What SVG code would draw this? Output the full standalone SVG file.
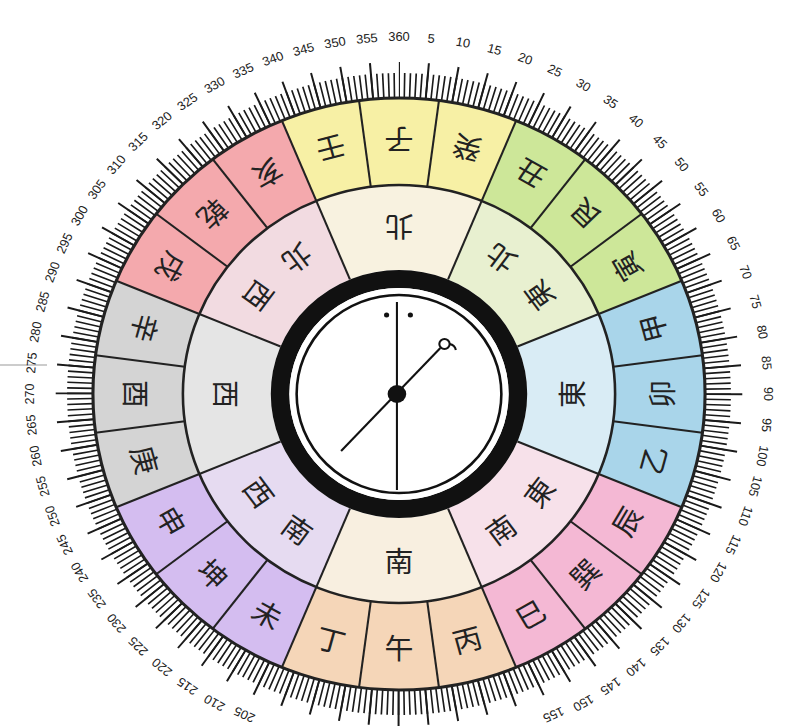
<svg xmlns="http://www.w3.org/2000/svg" xmlns:xlink="http://www.w3.org/1999/xlink" width="795" height="728" viewBox="0 0 795 728">
<style>
.m{font-family:"Noto Sans CJK TC","Noto Sans CJK SC",sans-serif;font-size:28px;fill:#222;text-anchor:middle;dominant-baseline:central}
.n{font-family:"Liberation Sans",Arial,sans-serif;font-size:12.5px;fill:#222;text-anchor:middle;dominant-baseline:central}
.dv{stroke:#222;stroke-width:2}
.r24{fill:none;stroke-width:87;stroke-dasharray:199 1387.5}
.r8{fill:none;stroke-width:85;stroke-dasharray:131.3 914.9}
</style>
<defs>
<line id="d24" class="dv" x1="0" y1="-209" x2="0" y2="-296"/>
<line id="d8" class="dv" x1="0" y1="-124" x2="0" y2="-209"/>
</defs>
<rect width="795" height="728" fill="#fff"/>
<line x1="0" y1="365" x2="47" y2="365" stroke="#999" stroke-width="1"/>
<g transform="translate(399,394) scale(1.034,1)">
<g id="ring24">
<circle class="r24" r="252.5" stroke="#f7f0a5" transform="rotate(247.5)"/>
<circle class="r24" r="252.5" stroke="#cde799" transform="rotate(-67.5)"/>
<circle class="r24" r="252.5" stroke="#a9d5ea" transform="rotate(-22.5)"/>
<circle class="r24" r="252.5" stroke="#f4b8d4" transform="rotate(22.5)"/>
<circle class="r24" r="252.5" stroke="#f5d6b8" transform="rotate(67.5)"/>
<circle class="r24" r="252.5" stroke="#d4bdf0" transform="rotate(112.5)"/>
<circle class="r24" r="252.5" stroke="#d4d4d4" transform="rotate(157.5)"/>
<circle class="r24" r="252.5" stroke="#f4a9ad" transform="rotate(202.5)"/>
</g>
<g id="ring8">
<circle class="r8" r="166.5" stroke="#f8f2e0" transform="rotate(247.5)"/>
<circle class="r8" r="166.5" stroke="#e8f0d0" transform="rotate(-67.5)"/>
<circle class="r8" r="166.5" stroke="#d9ecf5" transform="rotate(-22.5)"/>
<circle class="r8" r="166.5" stroke="#f7e1ea" transform="rotate(22.5)"/>
<circle class="r8" r="166.5" stroke="#f8efe0" transform="rotate(67.5)"/>
<circle class="r8" r="166.5" stroke="#e6dbf1" transform="rotate(112.5)"/>
<circle class="r8" r="166.5" stroke="#e5e5e5" transform="rotate(157.5)"/>
<circle class="r8" r="166.5" stroke="#f2dbe1" transform="rotate(202.5)"/>
</g>
<g id="ticks" transform="rotate(-90)">
<circle r="308.5" fill="none" stroke="#1a1a1a" stroke-width="25" stroke-dasharray="1.6 3.78434" stroke-dashoffset="0.8"/>
<circle r="314" fill="none" stroke="#1a1a1a" stroke-width="36" stroke-dasharray="1.9 25.5017" stroke-dashoffset="0.95"/>
</g>
<g id="connectors">
<circle r="296" fill="none" stroke="#222" stroke-width="3"/>
<circle r="209" fill="none" stroke="#222" stroke-width="2.5"/>
<use xlink:href="#d24" transform="rotate(7.5)"/><use xlink:href="#d24" transform="rotate(22.5)"/><use xlink:href="#d24" transform="rotate(37.5)"/><use xlink:href="#d24" transform="rotate(52.5)"/>
<use xlink:href="#d24" transform="rotate(67.5)"/><use xlink:href="#d24" transform="rotate(82.5)"/><use xlink:href="#d24" transform="rotate(97.5)"/><use xlink:href="#d24" transform="rotate(112.5)"/>
<use xlink:href="#d24" transform="rotate(127.5)"/><use xlink:href="#d24" transform="rotate(142.5)"/><use xlink:href="#d24" transform="rotate(157.5)"/><use xlink:href="#d24" transform="rotate(172.5)"/>
<use xlink:href="#d24" transform="rotate(187.5)"/><use xlink:href="#d24" transform="rotate(202.5)"/><use xlink:href="#d24" transform="rotate(217.5)"/><use xlink:href="#d24" transform="rotate(232.5)"/>
<use xlink:href="#d24" transform="rotate(247.5)"/><use xlink:href="#d24" transform="rotate(262.5)"/><use xlink:href="#d24" transform="rotate(277.5)"/><use xlink:href="#d24" transform="rotate(292.5)"/>
<use xlink:href="#d24" transform="rotate(307.5)"/><use xlink:href="#d24" transform="rotate(322.5)"/><use xlink:href="#d24" transform="rotate(337.5)"/><use xlink:href="#d24" transform="rotate(352.5)"/>
<use xlink:href="#d8" transform="rotate(22.5)"/><use xlink:href="#d8" transform="rotate(67.5)"/><use xlink:href="#d8" transform="rotate(112.5)"/><use xlink:href="#d8" transform="rotate(157.5)"/>
<use xlink:href="#d8" transform="rotate(202.5)"/><use xlink:href="#d8" transform="rotate(247.5)"/><use xlink:href="#d8" transform="rotate(292.5)"/><use xlink:href="#d8" transform="rotate(337.5)"/>
</g>
<g id="mountains">
<text class="m" transform="rotate(0) translate(0,-253) rotate(180)">子</text>
<text class="m" transform="rotate(15) translate(0,-253) rotate(180)">癸</text>
<text class="m" transform="rotate(30) translate(0,-253) rotate(180)">丑</text>
<text class="m" transform="rotate(45) translate(0,-253) rotate(180)">艮</text>
<text class="m" transform="rotate(60) translate(0,-253) rotate(180)">寅</text>
<text class="m" transform="rotate(75) translate(0,-253) rotate(180)">甲</text>
<text class="m" transform="rotate(90) translate(0,-253) rotate(180)">卯</text>
<text class="m" transform="rotate(105) translate(0,-253) rotate(180)">乙</text>
<text class="m" transform="rotate(120) translate(0,-253) rotate(180)">辰</text>
<text class="m" transform="rotate(135) translate(0,-253) rotate(180)">巽</text>
<text class="m" transform="rotate(150) translate(0,-253) rotate(180)">巳</text>
<text class="m" transform="rotate(165) translate(0,-253) rotate(180)">丙</text>
<text class="m" transform="rotate(180) translate(0,-253) rotate(180)">午</text>
<text class="m" transform="rotate(195) translate(0,-253) rotate(180)">丁</text>
<text class="m" transform="rotate(210) translate(0,-253) rotate(180)">未</text>
<text class="m" transform="rotate(225) translate(0,-253) rotate(180)">坤</text>
<text class="m" transform="rotate(240) translate(0,-253) rotate(180)">申</text>
<text class="m" transform="rotate(255) translate(0,-253) rotate(180)">庚</text>
<text class="m" transform="rotate(270) translate(0,-253) rotate(180)">酉</text>
<text class="m" transform="rotate(285) translate(0,-253) rotate(180)">辛</text>
<text class="m" transform="rotate(300) translate(0,-253) rotate(180)">戌</text>
<text class="m" transform="rotate(315) translate(0,-253) rotate(180)">乾</text>
<text class="m" transform="rotate(330) translate(0,-253) rotate(180)">亥</text>
<text class="m" transform="rotate(345) translate(0,-253) rotate(180)">壬</text>
</g>
<g id="directions">
<text class="m" transform="rotate(0) translate(0,-166) rotate(180)">北</text>
<text class="m" transform="rotate(36) translate(0,-166) rotate(180)">北</text>
<text class="m" transform="rotate(54) translate(0,-166) rotate(180)">東</text>
<text class="m" transform="rotate(90) translate(0,-166) rotate(180)">東</text>
<text class="m" transform="rotate(126) translate(0,-166) rotate(180)">東</text>
<text class="m" transform="rotate(144) translate(0,-166) rotate(180)">南</text>
<text class="m" transform="rotate(180) translate(0,-166) rotate(180)">南</text>
<text class="m" transform="rotate(216) translate(0,-166) rotate(180)">南</text>
<text class="m" transform="rotate(234) translate(0,-166) rotate(180)">西</text>
<text class="m" transform="rotate(270) translate(0,-166) rotate(180)">西</text>
<text class="m" transform="rotate(306) translate(0,-166) rotate(180)">西</text>
<text class="m" transform="rotate(324) translate(0,-166) rotate(180)">北</text>
</g>
<g id="degrees">
<text class="n" transform="rotate(5) translate(0,-357)">5</text>
<text class="n" transform="rotate(10) translate(0,-357)">10</text>
<text class="n" transform="rotate(15) translate(0,-357)">15</text>
<text class="n" transform="rotate(20) translate(0,-357)">20</text>
<text class="n" transform="rotate(25) translate(0,-357)">25</text>
<text class="n" transform="rotate(30) translate(0,-357)">30</text>
<text class="n" transform="rotate(35) translate(0,-357)">35</text>
<text class="n" transform="rotate(40) translate(0,-357)">40</text>
<text class="n" transform="rotate(45) translate(0,-357)">45</text>
<text class="n" transform="rotate(50) translate(0,-357)">50</text>
<text class="n" transform="rotate(55) translate(0,-357)">55</text>
<text class="n" transform="rotate(60) translate(0,-357)">60</text>
<text class="n" transform="rotate(65) translate(0,-357)">65</text>
<text class="n" transform="rotate(70) translate(0,-357)">70</text>
<text class="n" transform="rotate(75) translate(0,-357)">75</text>
<text class="n" transform="rotate(80) translate(0,-357)">80</text>
<text class="n" transform="rotate(85) translate(0,-357)">85</text>
<text class="n" transform="rotate(90) translate(0,-357)">90</text>
<text class="n" transform="rotate(95) translate(0,-357)">95</text>
<text class="n" transform="rotate(100) translate(0,-357)">100</text>
<text class="n" transform="rotate(105) translate(0,-357)">105</text>
<text class="n" transform="rotate(110) translate(0,-357)">110</text>
<text class="n" transform="rotate(115) translate(0,-357)">115</text>
<text class="n" transform="rotate(120) translate(0,-357)">120</text>
<text class="n" transform="rotate(125) translate(0,-357)">125</text>
<text class="n" transform="rotate(130) translate(0,-357)">130</text>
<text class="n" transform="rotate(135) translate(0,-357)">135</text>
<text class="n" transform="rotate(140) translate(0,-357)">140</text>
<text class="n" transform="rotate(145) translate(0,-357)">145</text>
<text class="n" transform="rotate(150) translate(0,-357)">150</text>
<text class="n" transform="rotate(155) translate(0,-354)">155</text>
<text class="n" transform="rotate(205) translate(0,-354)">205</text>
<text class="n" transform="rotate(210) translate(0,-357)">210</text>
<text class="n" transform="rotate(215) translate(0,-357)">215</text>
<text class="n" transform="rotate(220) translate(0,-357)">220</text>
<text class="n" transform="rotate(225) translate(0,-357)">225</text>
<text class="n" transform="rotate(230) translate(0,-357)">230</text>
<text class="n" transform="rotate(235) translate(0,-357)">235</text>
<text class="n" transform="rotate(240) translate(0,-357)">240</text>
<text class="n" transform="rotate(245) translate(0,-357)">245</text>
<text class="n" transform="rotate(250) translate(0,-357)">250</text>
<text class="n" transform="rotate(255) translate(0,-357)">255</text>
<text class="n" transform="rotate(260) translate(0,-357)">260</text>
<text class="n" transform="rotate(265) translate(0,-357)">265</text>
<text class="n" transform="rotate(270) translate(0,-357)">270</text>
<text class="n" transform="rotate(275) translate(0,-357)">275</text>
<text class="n" transform="rotate(280) translate(0,-357)">280</text>
<text class="n" transform="rotate(285) translate(0,-357)">285</text>
<text class="n" transform="rotate(290) translate(0,-357)">290</text>
<text class="n" transform="rotate(295) translate(0,-357)">295</text>
<text class="n" transform="rotate(300) translate(0,-357)">300</text>
<text class="n" transform="rotate(305) translate(0,-357)">305</text>
<text class="n" transform="rotate(310) translate(0,-357)">310</text>
<text class="n" transform="rotate(315) translate(0,-357)">315</text>
<text class="n" transform="rotate(320) translate(0,-357)">320</text>
<text class="n" transform="rotate(325) translate(0,-357)">325</text>
<text class="n" transform="rotate(330) translate(0,-357)">330</text>
<text class="n" transform="rotate(335) translate(0,-357)">335</text>
<text class="n" transform="rotate(340) translate(0,-357)">340</text>
<text class="n" transform="rotate(345) translate(0,-357)">345</text>
<text class="n" transform="rotate(350) translate(0,-357)">350</text>
<text class="n" transform="rotate(355) translate(0,-357)">355</text>
<text class="n" transform="rotate(360) translate(0,-357)">360</text>
</g>
<g id="hub">
<circle r="115" fill="none" stroke="#111" stroke-width="18"/>
<circle r="106" fill="#fff"/>
<circle r="99" fill="#fff" stroke="#111" stroke-width="2.5"/>
<line x1="-2" y1="-92" x2="-2" y2="96" stroke="#111" stroke-width="2"/>
<circle cx="-12" cy="-79" r="2.5" fill="#111"/>
<circle cx="11" cy="-79" r="2.5" fill="#111"/>
<line x1="-56" y1="57" x2="40" y2="-46" stroke="#111" stroke-width="2"/>
<circle cx="44" cy="-50" r="5" fill="#fff" stroke="#111" stroke-width="2"/>
<path d="M49,-50 Q54,-49 55,-44" fill="none" stroke="#111" stroke-width="2"/>
<circle cx="-2" cy="0" r="9" fill="#111"/>
</g>
</g>
</svg>
